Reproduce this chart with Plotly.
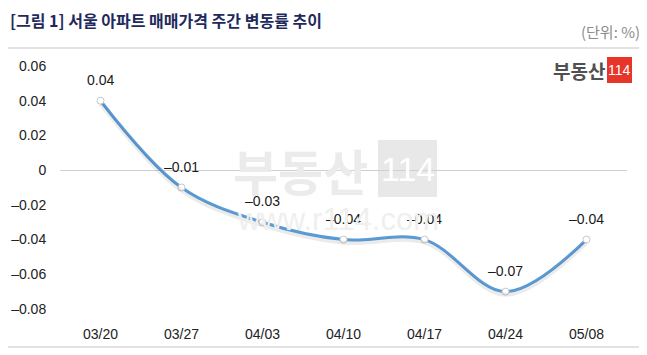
import plotly.graph_objects as go

weeks = ["03/20", "03/27", "04/03", "04/10", "04/17", "04/24", "05/08"]
change = [0.04, -0.01, -0.03, -0.04, -0.04, -0.07, -0.04]
label_text = ["0.04", "\u20130.01", "\u20130.03", "\u20130.04", "\u20130.04", "\u20130.07", "\u20130.04"]
y_ticks = [0.06, 0.04, 0.02, 0, -0.02, -0.04, -0.06, -0.08]
y_tick_text = ["0.06", "0.04", "0.02", "0", "\u20130.02", "\u20130.04", "\u20130.06", "\u20130.08"]

FONT = "Liberation Sans, Arial, sans-serif"
KFONT = "Noto Sans CJK KR"

# page has an 8px body margin, so the figure is drawn 8px in from the top-left
W, H = 639, 347
L, R, T, B = 52, 20, 58, 46
PW, PH = W - L - R, H - T - B


def px(x_ref):
    return (x_ref - 8 - L) / PW


def py(y_ref):
    return (H - B - (y_ref - 8)) / PH


fig = go.Figure()
# soft shadow under the line
fig.add_trace(go.Scatter(
    x=weeks, y=change, mode="lines", yaxis="y2",
    line=dict(color="rgba(0,0,0,0.08)", width=4, shape="spline", smoothing=1.0),
    hoverinfo="skip", showlegend=False))
fig.add_trace(go.Scatter(
    x=weeks, y=change, mode="lines+markers",
    line=dict(color="#5b9bd5", width=3, shape="spline", smoothing=1.0),
    marker=dict(size=7, color="white", line=dict(color="#c8c8c8", width=1)),
    cliponaxis=False, showlegend=False))

for wk, val, txt in zip(weeks, change, label_text):
    fig.add_annotation(x=wk, y=val, text=txt, showarrow=False, yshift=21,
                       font=dict(family=FONT, size=14, color="#1a1a1a"))

# watermark
fig.add_annotation(x=px(300), y=py(169), xref="paper", yref="paper", xanchor="center",
                   yanchor="middle", text="<b>부동산</b>", showarrow=False,
                   font=dict(family=KFONT, size=49, color="#ebebeb"))
fig.add_shape(type="rect", xref="paper", yref="paper", x0=px(378), x1=px(437),
              y0=py(197), y1=py(140), fillcolor="#e8e8e8", line=dict(width=0), layer="below")
fig.add_annotation(x=px(407.5), y=py(169), xref="paper", yref="paper", xanchor="center",
                   yanchor="middle", text="114", showarrow=False,
                   font=dict(family=FONT, size=34, color="#ffffff"))
fig.add_annotation(x=px(338), y=py(219), xref="paper", yref="paper", xanchor="center",
                   yanchor="middle", text="www.r114.com", showarrow=False,
                   font=dict(family="Liberation Sans", size=31, color="#efefef"))

# logo top right
fig.add_annotation(x=px(607), y=py(70), xref="paper", yref="paper", text="<b>부동산</b>",
                   showarrow=False, xanchor="right", yanchor="middle",
                   font=dict(family=KFONT, size=19, color="#505050"))
fig.add_shape(type="rect", xref="paper", yref="paper", x0=px(607), x1=px(632),
              y0=py(83), y1=py(57), fillcolor="#e8352a", line=dict(width=0))
fig.add_annotation(x=px(619.5), y=py(70), xref="paper", yref="paper", xanchor="center",
                   yanchor="middle", text="114", showarrow=False,
                   font=dict(family=FONT, size=14, color="white"))

# title and unit
fig.add_annotation(x=px(8), y=py(20), xref="paper", yref="paper", xanchor="left",
                   yanchor="middle", text="<b>[그림 1] 서울 아파트 매매가격 주간 변동률 추이</b>",
                   showarrow=False, font=dict(family=KFONT, size=16, color="#1f2a5c"))
fig.add_annotation(x=px(642), y=py(32), xref="paper", yref="paper", xanchor="right",
                   yanchor="middle", text="(단위: %)", showarrow=False,
                   font=dict(family=KFONT, size=15, color="#8c8c8c"))

# outer frame
fig.add_shape(type="rect", xref="paper", yref="paper", x0=px(3), x1=px(643), y0=py(347), y1=py(48),
              line=dict(color="#d9d9d9", width=1.5), layer="below")

fig.update_layout(
    width=W, height=H,
    margin=dict(l=L, r=R, t=T, b=B),
    paper_bgcolor="white", plot_bgcolor="rgba(0,0,0,0)",
    font=dict(family=FONT, color="#222222"),
    xaxis=dict(type="category", range=[-0.5, 6.5], showgrid=False, zeroline=False,
               showline=False, ticks="outside", ticklen=12, tickcolor="rgba(0,0,0,0)",
               automargin=False,
               tickfont=dict(family=FONT, size=14, color="#222222")),
    yaxis=dict(range=[-0.08, 0.06], tickvals=y_ticks, ticktext=y_tick_text,
               showgrid=False, zeroline=True, zerolinecolor="#d0d0d0", zerolinewidth=1,
               showline=False, ticks="outside", ticklen=10, tickcolor="rgba(0,0,0,0)",
               automargin=False,
               tickfont=dict(family=FONT, size=14, color="#222222")),
    yaxis2=dict(range=[-0.08 + 0.0018, 0.06 + 0.0018], overlaying="y", visible=False),
    showlegend=False,
)

fig.write_html("out.html")
